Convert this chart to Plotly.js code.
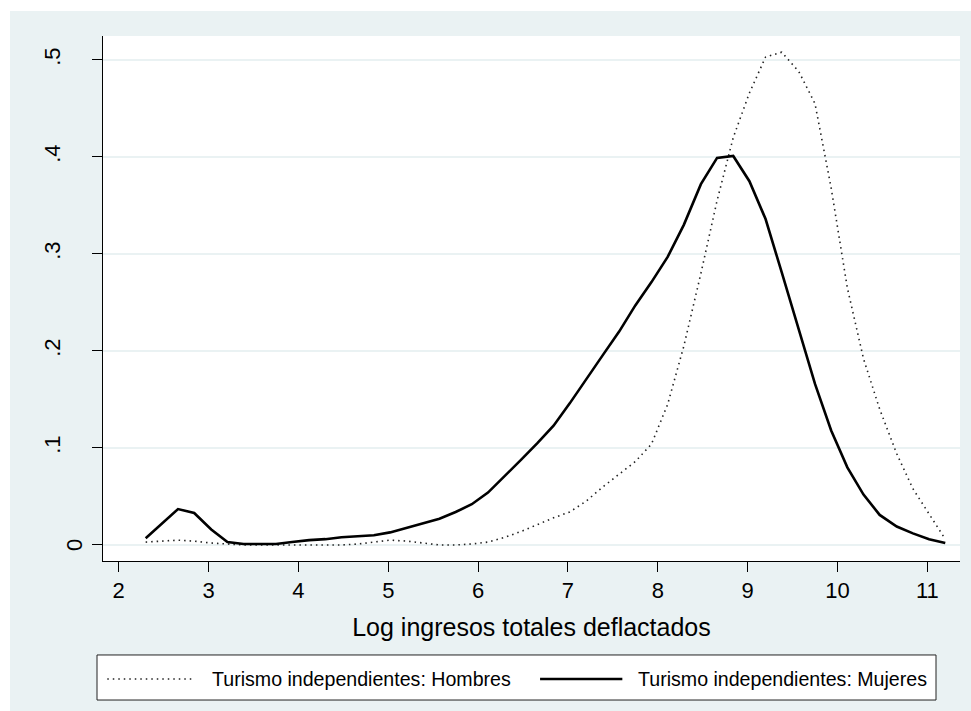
<!DOCTYPE html>
<html>
<head>
<meta charset="utf-8">
<script src="https://cdn.plot.ly/plotly-3.0.1.min.js"></script>
<style>
  html, body { margin: 0; padding: 0; background: #ffffff; }
  #chart { position: absolute; left: 10px; top: 11px; width: 961px; height: 700px; }
</style>
</head>
<body>
<div id="chart"></div>
<script>
// Evaluation grid of the kernel density estimates (log of deflated total income)
const logIngreso = [2.30, 2.48, 2.66, 2.84, 3.03, 3.21, 3.39, 3.57, 3.75, 3.93,
                    4.12, 4.30, 4.48, 4.66, 4.84, 5.02, 5.21, 5.39, 5.57, 5.75,
                    5.93, 6.11, 6.30, 6.48, 6.66, 6.84, 7.02, 7.20, 7.39, 7.57,
                    7.75, 7.93, 8.11, 8.29, 8.48, 8.66, 8.84, 9.02, 9.20, 9.38,
                    9.57, 9.75, 9.93, 10.11, 10.29, 10.47, 10.66, 10.84, 11.02, 11.20];

// Density, independent tourism workers: men
const densHombres = [0.003, 0.004, 0.005, 0.004, 0.002, 0.001, 0.000, 0.000, 0.000, 0.000,
                     0.000, 0.000, 0.000, 0.001, 0.003, 0.005, 0.004, 0.002, 0.000, 0.000,
                     0.001, 0.003, 0.008, 0.014, 0.021, 0.028, 0.034, 0.045, 0.060, 0.073,
                     0.086, 0.104, 0.145, 0.205, 0.280, 0.355, 0.420, 0.466, 0.503, 0.508,
                     0.488, 0.455, 0.368, 0.265, 0.192, 0.140, 0.094, 0.058, 0.032, 0.006];

// Density, independent tourism workers: women
const densMujeres = [0.007, 0.022, 0.037, 0.033, 0.016, 0.003, 0.001, 0.001, 0.001, 0.003,
                     0.005, 0.006, 0.008, 0.009, 0.010, 0.013, 0.018, 0.023, 0.027, 0.034,
                     0.042, 0.054, 0.071, 0.088, 0.105, 0.123, 0.146, 0.171, 0.196, 0.220,
                     0.247, 0.271, 0.297, 0.330, 0.372, 0.399, 0.401, 0.375, 0.336, 0.281,
                     0.222, 0.166, 0.118, 0.080, 0.052, 0.031, 0.019, 0.012, 0.006, 0.002];

const seriesNames = ["Turismo independientes: Hombres", "Turismo independientes: Mujeres"];

const xTickVals = [2, 3, 4, 5, 6, 7, 8, 9, 10, 11];
const yTickVals = [0, 0.1, 0.2, 0.3, 0.4, 0.5];
const yTickText = ["0", ".1", ".2", ".3", ".4", ".5"];
const xAxisTitle = "Log ingresos totales deflactados";

const FONT = "Liberation Sans, Arial, sans-serif";
const BG = "#EAF2F3";

const hombresLine = { color: "#222222", width: 1.6, dash: "1.5px,4px" };
const mujeresLine = { color: "#000000", width: 2.6 };

const traces = [
  { x: logIngreso, y: densHombres, type: "scatter", mode: "lines",
    name: seriesNames[0], line: hombresLine, showlegend: false },
  { x: logIngreso, y: densMujeres, type: "scatter", mode: "lines",
    name: seriesNames[1], line: mujeresLine, showlegend: false }
];

// The zero label sits closer to the axis than the decimal labels
const yTickTextShown = yTickText.map((t, i) => (yTickVals[i] === 0 ? "" : t));
const zeroLabel = {
  xref: "paper", yref: "y", x: -0.0327, y: 0, xanchor: "center", yanchor: "middle",
  textangle: -90, showarrow: false, text: yTickText[yTickVals.indexOf(0)],
  font: { family: FONT, size: 22, color: "#000" }
};

// Legend drawn below the axis title: a framed box with two line keys
const legY = -0.2248;
const shapes = [
  { type: "rect", xref: "paper", yref: "paper", x0: -0.007, x1: 0.972, y0: -0.179, y1: -0.2648,
    fillcolor: "#ffffff", line: { color: "#222222", width: 1 } },
  { type: "line", xref: "paper", yref: "paper", x0: 0.005, x1: 0.107, y0: legY, y1: legY,
    line: hombresLine },
  { type: "line", xref: "paper", yref: "paper", x0: 0.510, x1: 0.606, y0: legY, y1: legY,
    line: mujeresLine }
];
const annotations = [
  { xref: "paper", yref: "paper", x: 0.1249, y: legY, xanchor: "left", yanchor: "middle",
    showarrow: false, text: seriesNames[0], font: { family: FONT, size: 19.6, color: "#000" } },
  { xref: "paper", yref: "paper", x: 0.622, y: legY, xanchor: "left", yanchor: "middle",
    showarrow: false, text: seriesNames[1], font: { family: FONT, size: 19.6, color: "#000" } },
  zeroLabel
];

const layout = {
  width: 961, height: 700,
  margin: { l: 93, r: 11, t: 25, b: 150 },
  paper_bgcolor: BG,
  plot_bgcolor: "#ffffff",
  font: { family: FONT, color: "#000" },
  showlegend: false,
  xaxis: {
    range: [1.825, 11.364],
    tickvals: xTickVals,
    ticks: "outside", ticklen: 10, tickwidth: 1, tickcolor: "#000",
    showline: true, linecolor: "#000", linewidth: 1,
    showgrid: false, zeroline: false,
    tickfont: { family: FONT, size: 22, color: "#000" },
    title: { text: xAxisTitle, font: { family: FONT, size: 25, color: "#000" }, standoff: 16 },
    automargin: false
  },
  yaxis: {
    range: [-0.0165, 0.5247],
    tickvals: yTickVals, ticktext: yTickTextShown,
    tickangle: -90,
    ticks: "outside", ticklen: 10, tickwidth: 1, tickcolor: "#000",
    ticklabelstandoff: 23,
    showline: true, linecolor: "#000", linewidth: 1,
    showgrid: true, gridcolor: BG, gridwidth: 2, zeroline: false,
    tickfont: { family: FONT, size: 22, color: "#000" },
    automargin: false
  },
  shapes: shapes,
  annotations: annotations
};

Plotly.newPlot("chart", traces, layout, { displayModeBar: false, staticPlot: true });
</script>
</body>
</html>
